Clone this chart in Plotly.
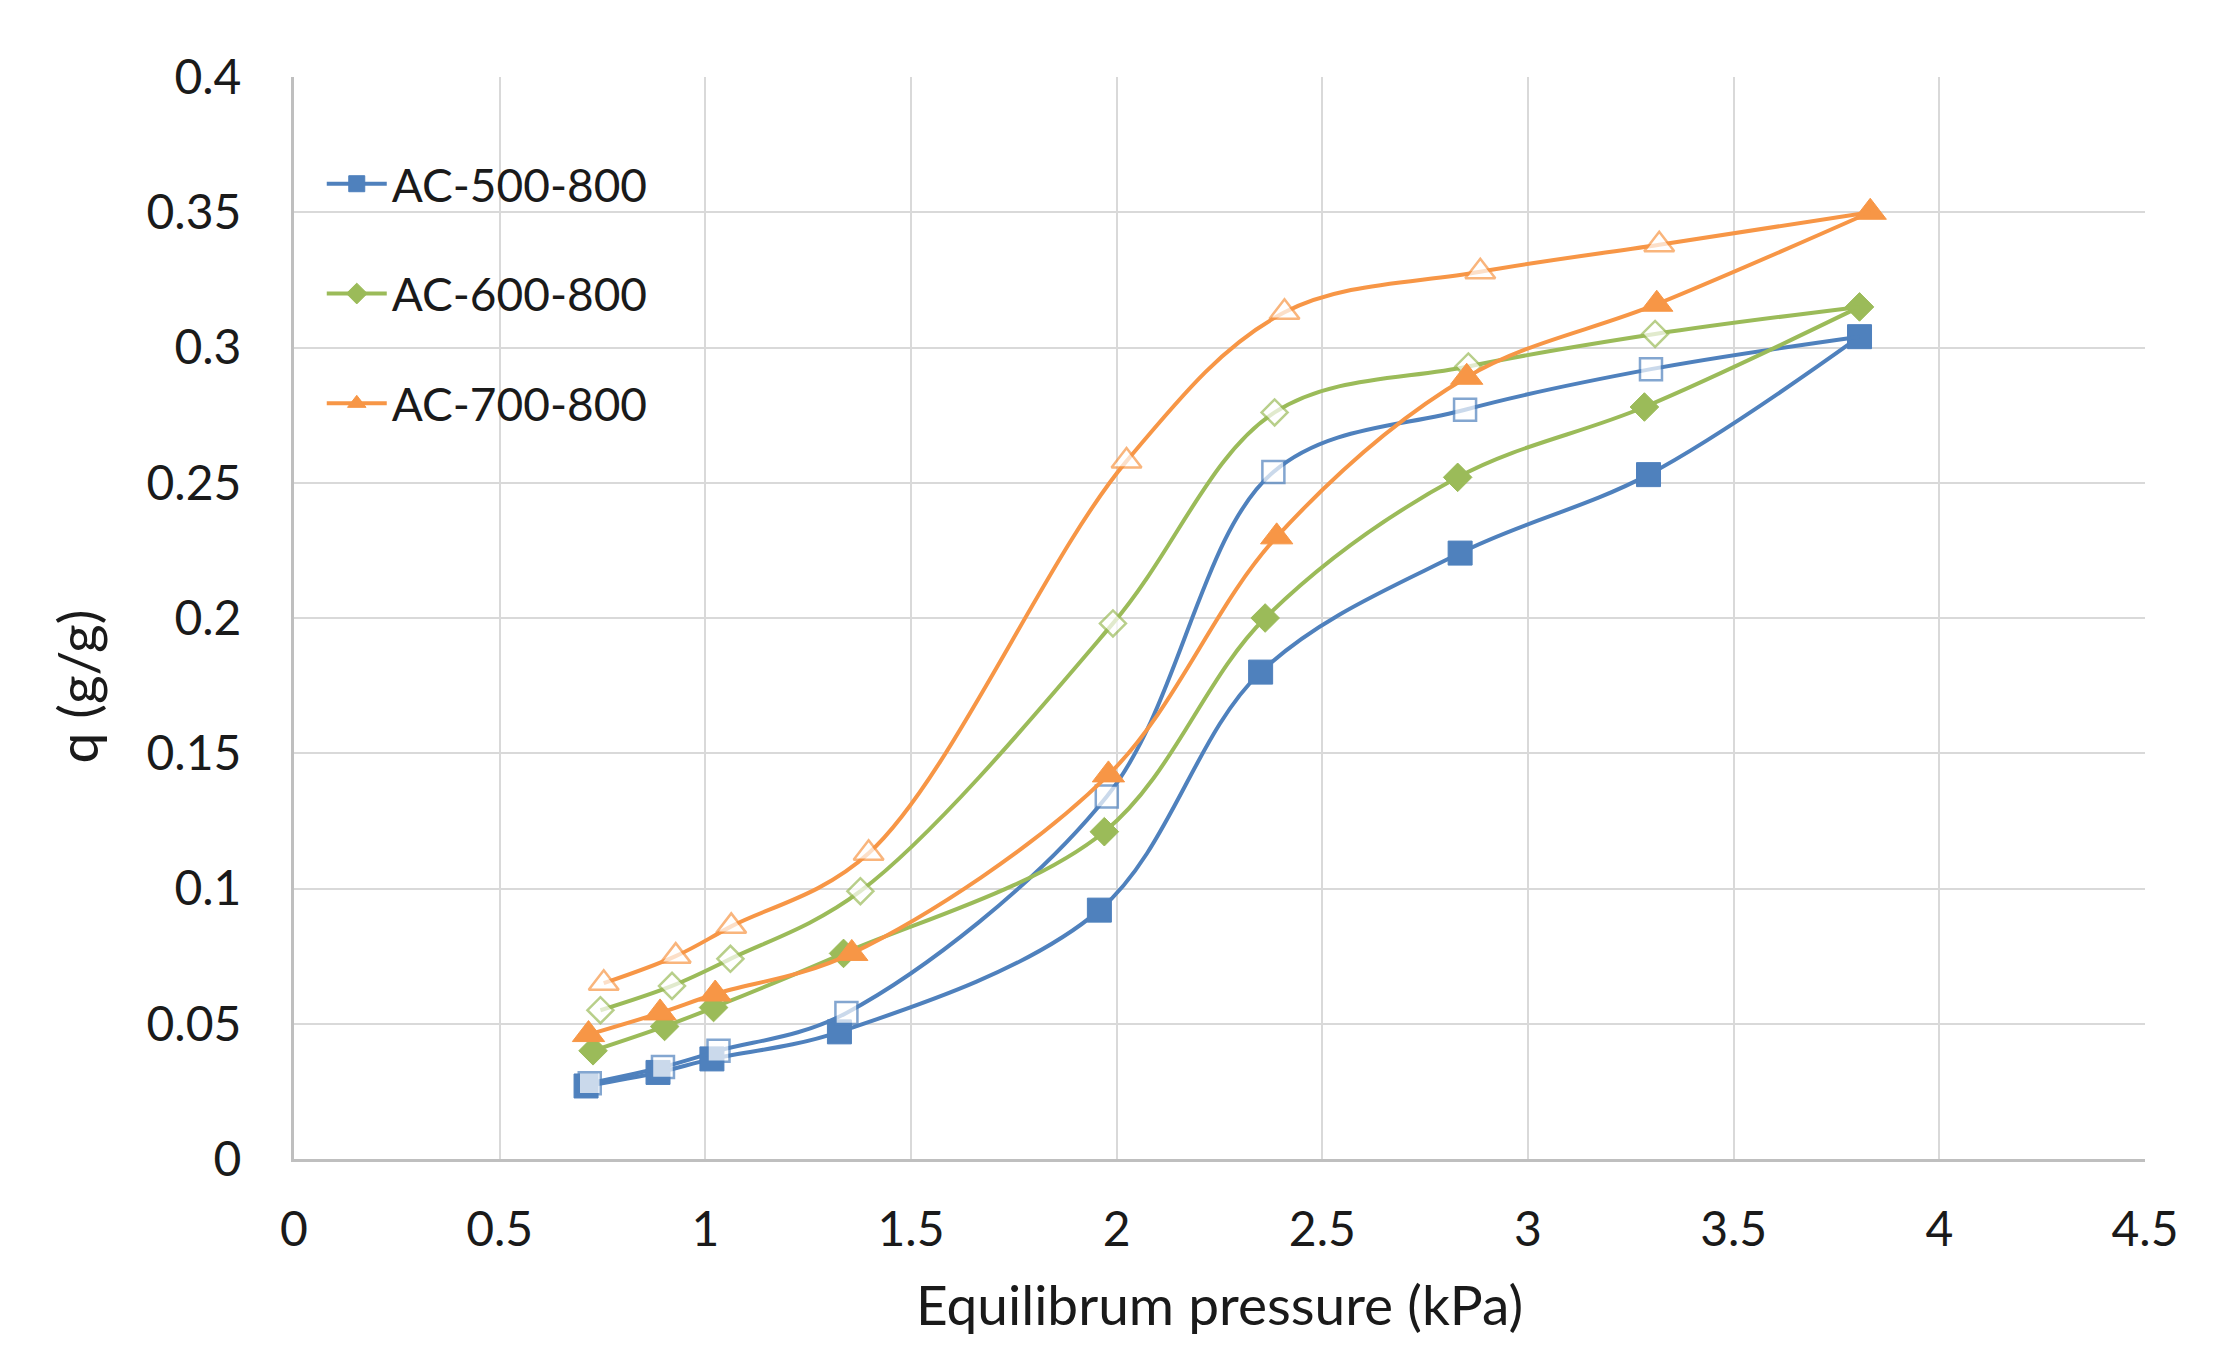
import plotly.graph_objects as go

# ---- data ----
ads500_x = [0.71, 0.885, 1.016, 1.326, 1.958, 2.350, 2.835, 3.293, 3.806]
ads500_y = [0.027, 0.032, 0.037, 0.047, 0.092, 0.180, 0.224, 0.253, 0.304]
des500_x = [3.806, 3.299, 2.847, 2.381, 1.976, 1.343, 1.032, 0.897, 0.719]
des500_y = [0.304, 0.292, 0.277, 0.254, 0.134, 0.054, 0.040, 0.034, 0.028]

ads600_x = [0.727, 0.901, 1.020, 1.336, 1.970, 2.361, 2.829, 3.283, 3.806]
ads600_y = [0.040, 0.049, 0.056, 0.076, 0.121, 0.200, 0.252, 0.278, 0.315]
des600_x = [3.806, 3.309, 2.855, 2.384, 1.991, 1.377, 1.061, 0.919, 0.745]
des600_y = [0.315, 0.305, 0.293, 0.276, 0.198, 0.099, 0.074, 0.064, 0.055]

ads700_x = [0.716, 0.890, 1.024, 1.356, 1.980, 2.389, 2.851, 3.313, 3.832]
ads700_y = [0.046, 0.054, 0.061, 0.076, 0.142, 0.230, 0.289, 0.316, 0.350]
des700_x = [3.832, 3.319, 2.884, 2.408, 2.024, 1.397, 1.063, 0.928, 0.753]
des700_y = [0.350, 0.338, 0.328, 0.313, 0.258, 0.113, 0.086, 0.075, 0.065]

names = ["AC-500-800", "AC-600-800", "AC-700-800"]
x_ticks = [0, 0.5, 1, 1.5, 2, 2.5, 3, 3.5, 4, 4.5]
y_ticks = [0, 0.05, 0.1, 0.15, 0.2, 0.25, 0.3, 0.35, 0.4]

colors = ["#4F81BD", "#9BBB59", "#F79646"]
symbols = ["square", "diamond", "triangle-up"]
sizes = [24, 22, 28]

series = [
    (ads500_x, ads500_y, des500_x, des500_y),
    (ads600_x, ads600_y, des600_x, des600_y),
    (ads700_x, ads700_y, des700_x, des700_y),
]

FONT = "Lato"
fig = go.Figure()
for i, (ax, ay, dx, dy) in enumerate(series):
    c = colors[i]
    fig.add_trace(go.Scatter(
        x=ax, y=ay, mode="lines+markers", name=names[i],
        legendgroup=names[i],
        line=dict(color=c, width=4, shape="spline", smoothing=1.0),
        marker=dict(symbol=symbols[i], size=sizes[i], color=c,
                    line=dict(color=c, width=1)),
    ))
    dsz = [0] + [sizes[i] - 2] * (len(dx) - 1)
    fig.add_trace(go.Scatter(
        x=dx, y=dy, mode="lines+markers", showlegend=False,
        legendgroup=names[i],
        line=dict(color=c, width=4, shape="spline", smoothing=1.0),
        marker=dict(symbol=symbols[i], size=dsz, color="white",
                    line=dict(color=c, width=2.5)),
    ))

fig.update_layout(
    width=2220, height=1349,
    paper_bgcolor="white", plot_bgcolor="white",
    margin=dict(l=286, r=83, t=69, b=198),
    font=dict(family=FONT, size=48, color="#1a1a1a"),
    showlegend=True,
    legend=dict(
        x=0.015, y=0.935, xanchor="left", yanchor="top",
        bgcolor="rgba(0,0,0,0)", borderwidth=0,
        font=dict(family=FONT, size=46, color="#1a1a1a"),
        tracegroupgap=47, itemwidth=60,
    ),
    xaxis=dict(
        range=[0, 4.5], tickvals=x_ticks, ticktext=[f"{v:g}" for v in x_ticks],
        showgrid=True, gridcolor="#D9D9D9", gridwidth=2,
        zeroline=False, showline=True, linecolor="#BFBFBF", linewidth=3,
        ticks="", ticklabelstandoff=26,
        title=dict(text="Equilibrum pressure (kPa)", standoff=32,
                   font=dict(family=FONT, size=55, color="#1a1a1a")),
    ),
    yaxis=dict(
        range=[0, 0.4], tickvals=y_ticks, ticktext=[f"{v:g}" for v in y_ticks],
        showgrid=True, gridcolor="#D9D9D9", gridwidth=2,
        zeroline=False, showline=True, linecolor="#BFBFBF", linewidth=3,
        ticks="", ticklabelstandoff=40,
    ),
    annotations=[dict(
        text="q (g/g)", textangle=-90, showarrow=False,
        xref="paper", yref="paper", x=-0.117, y=0.437,
        xanchor="center", yanchor="middle",
        font=dict(family=FONT, size=55, color="#1a1a1a"),
    )],
)

fig.write_html("out.html")
